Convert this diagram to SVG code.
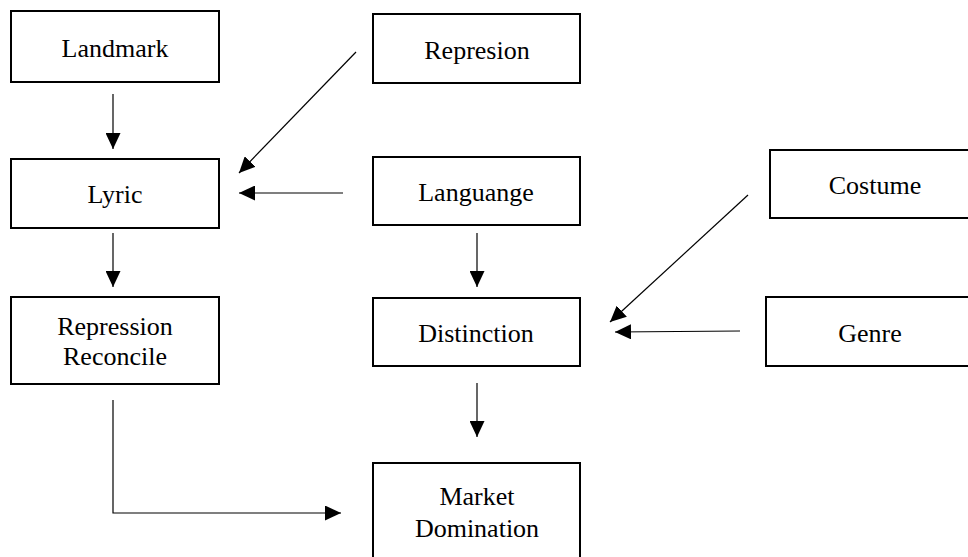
<svg xmlns="http://www.w3.org/2000/svg" width="968" height="557" viewBox="0 0 968 557">
<style>
.box{fill:#fff;stroke:#000;stroke-width:2}
.lbl{font-family:"Liberation Serif","Times New Roman",serif;font-size:26px;fill:#000;text-anchor:middle}
.con{fill:none;stroke:#000;stroke-width:1.2}
</style>
<defs>
<marker id="ah" markerUnits="userSpaceOnUse" markerWidth="16" markerHeight="15" refX="16" refY="7.5" orient="auto">
<path d="M0,0 L16,7.5 L0,15 z" fill="#000"/>
</marker>
</defs>
<rect width="968" height="557" fill="#fff"/>
<g id="landmark"><rect class="box" x="11" y="11" width="208" height="71"/><text class="lbl" x="115" y="57">Landmark</text></g>
<g id="represion"><rect class="box" x="373" y="14" width="207" height="69"/><text class="lbl" x="477" y="59">Represion</text></g>
<g id="lyric"><rect class="box" x="11" y="159" width="208" height="69"/><text class="lbl" x="115" y="203">Lyric</text></g>
<g id="languange"><rect class="box" x="373" y="157" width="207" height="68"/><text class="lbl" x="476" y="201">Languange</text></g>
<g id="costume"><rect class="box" x="770" y="150" width="210" height="68"/><text class="lbl" x="875" y="194">Costume</text></g>
<g id="repression-reconcile"><rect class="box" x="11" y="297" width="208" height="87"/><text class="lbl" x="115" y="335">Repression</text><text class="lbl" x="115" y="365">Reconcile</text></g>
<g id="distinction"><rect class="box" x="373" y="298" width="207" height="68"/><text class="lbl" x="476" y="342">Distinction</text></g>
<g id="genre"><rect class="box" x="766" y="297" width="214" height="69"/><text class="lbl" x="870" y="342">Genre</text></g>
<g id="market-domination"><rect class="box" x="373" y="463" width="207" height="100"/><text class="lbl" x="477" y="505">Market</text><text class="lbl" x="477" y="537">Domination</text></g>
<g id="connectors">
<line class="con" x1="113" y1="94" x2="113" y2="149" marker-end="url(#ah)"/>
<line class="con" x1="356" y1="52" x2="239" y2="173" marker-end="url(#ah)"/>
<line class="con" x1="343" y1="193" x2="239" y2="193" marker-end="url(#ah)"/>
<line class="con" x1="113" y1="233" x2="113" y2="287" marker-end="url(#ah)"/>
<line class="con" x1="477" y1="233" x2="477" y2="287" marker-end="url(#ah)"/>
<line class="con" x1="748" y1="195" x2="610" y2="322" marker-end="url(#ah)"/>
<line class="con" x1="740" y1="331" x2="615" y2="332" marker-end="url(#ah)"/>
<line class="con" x1="477" y1="383" x2="477" y2="437" marker-end="url(#ah)"/>
<polyline class="con" points="113,400 113,513 341,513" marker-end="url(#ah)"/>
</g>
</svg>
